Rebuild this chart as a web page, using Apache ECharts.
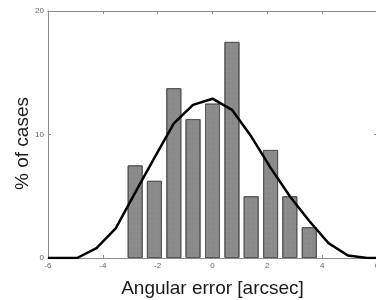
<!DOCTYPE html>
<html>
<head>
<meta charset="utf-8">
<script src="https://cdn.jsdelivr.net/npm/echarts@6/dist/echarts.min.js"></script>
<style>
  html, body { margin: 0; padding: 0; background: #fff; }
  #main { width: 376px; height: 300px; }
</style>
</head>
<body>
<div id="main"></div>
<script>
// histogram bins (arcsec) and % of cases
var binCenters = [-2.82, -2.12, -1.41, -0.71, 0, 0.71, 1.41, 2.12, 2.82, 3.53];
var binValues = [7.5, 6.25, 13.75, 11.25, 12.5, 17.5, 5, 8.75, 5, 2.5];

// fitted curve
var curveX = [-6, -4.94, -4.23, -3.53, -2.82, -2.12, -1.41, -0.71, 0, 0.71, 1.41, 2.12, 2.82, 3.53, 4.23, 4.94, 5.64, 6];
var curveY = [0, 0, 0.8, 2.4, 5.3, 8.1, 10.9, 12.4, 12.9, 12.0, 9.85, 7.3, 5.0, 3.0, 1.2, 0.2, 0, 0];

var xTicks = [-6, -4, -2, 0, 2, 4, 6];
var yTicks = [0, 10, 20];

var myChart = echarts.init(document.getElementById('main'));

var axisGray = '#8c8c8c';
var tickFont = { color: '#666', fontSize: 8, fontFamily: 'Liberation Sans, Arial, sans-serif' };
var line = { show: true, onZero: false, lineStyle: { color: axisGray } };
var tick = { show: true, inside: true, length: 3, lineStyle: { color: axisGray } };

var option = {
    backgroundColor: '#ffffff',
    animation: false,
    grid: { left: 48, top: 11, width: 329, height: 247, outerBoundsMode: 'none', containLabel: false },
    xAxis: [
        {
            type: 'value', min: xTicks[0], max: xTicks[xTicks.length - 1], interval: 2,
            name: 'Angular error [arcsec]', nameLocation: 'middle', nameGap: 21, nameMoveOverlap: false,
            nameTextStyle: { color: '#1a1a1a', fontSize: 19, fontFamily: 'Liberation Sans, Arial, sans-serif' },
            axisLine: line,
            axisTick: tick,
            axisLabel: Object.assign({ margin: 4 }, tickFont),
            splitLine: { show: false }
        },
        {
            type: 'value', position: 'top', min: -6, max: 6, interval: 2,
            axisLine: line,
            axisTick: tick,
            axisLabel: { show: false },
            splitLine: { show: false }
        }
    ],
    yAxis: [
        {
            type: 'value', min: yTicks[0], max: yTicks[yTicks.length - 1], interval: 10,
            name: '% of cases', nameLocation: 'middle', nameGap: 16, nameMoveOverlap: false,
            nameTextStyle: { color: '#1a1a1a', fontSize: 19, fontFamily: 'Liberation Sans, Arial, sans-serif', padding: [0, 18, 0, 0] },
            axisLine: line,
            axisTick: tick,
            axisLabel: Object.assign({ margin: 4 }, tickFont),
            splitLine: { show: false }
        },
        {
            type: 'value', position: 'right', min: 0, max: 20, interval: 10,
            axisLine: line,
            axisTick: tick,
            axisLabel: { show: false },
            splitLine: { show: false }
        }
    ],
    series: [
        {
            type: 'bar',
            barWidth: 15,
            data: binCenters.map(function (x, i) { return [x, binValues[i]]; }),
            itemStyle: {
                color: '#8a8a8a',
                borderColor: '#555',
                borderWidth: 1,
                decal: {
                    symbol: 'rect',
                    symbolSize: 0.5,
                    color: 'rgba(200,200,200,0.35)',
                    dashArrayX: [2, 3],
                    dashArrayY: [2, 3]
                }
            }
        },
        {
            type: 'line',
            data: curveX.map(function (x, i) { return [x, curveY[i]]; }),
            showSymbol: false,
            smooth: false,
            lineStyle: { color: '#000', width: 2.5 },
            z: 5
        }
    ]
};

myChart.setOption(option);
</script>
</body>
</html>
